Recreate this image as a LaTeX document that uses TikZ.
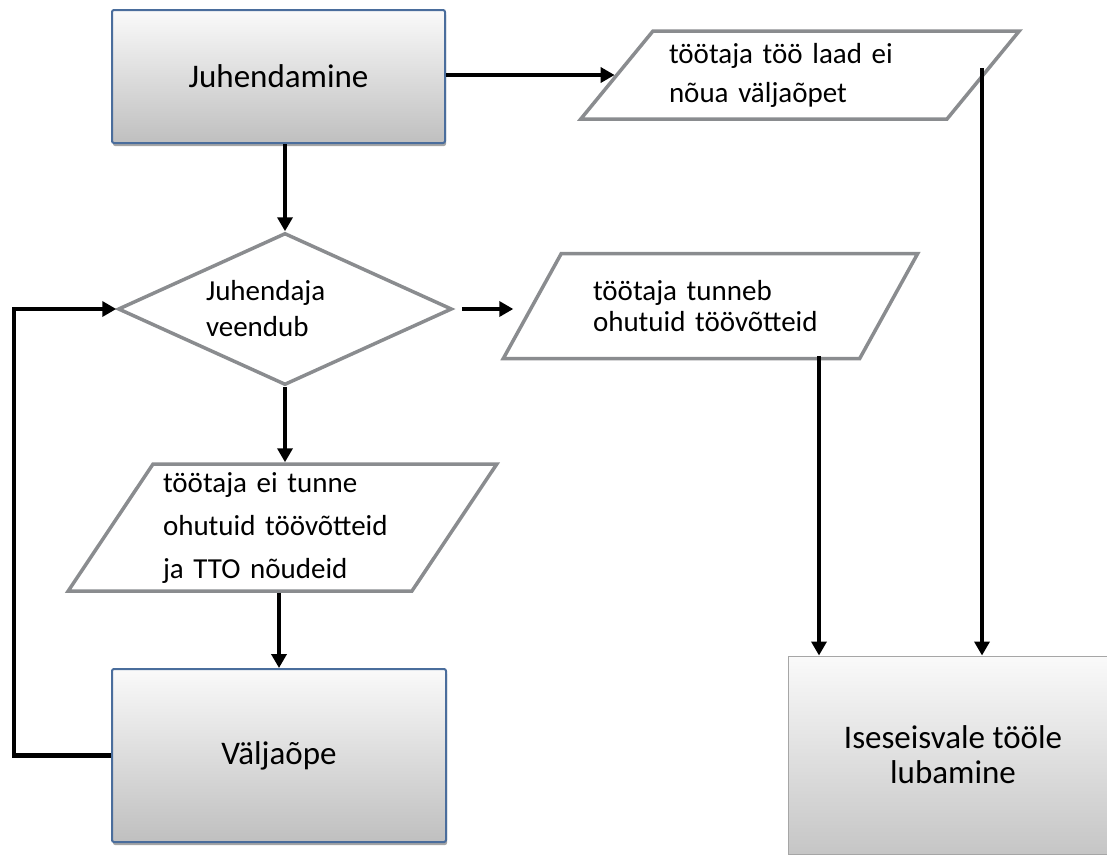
\documentclass[tikz,border=0pt]{standalone}
\usepackage{fontspec}
\setmainfont{Carlito}
\usetikzlibrary{arrows.meta,shapes.geometric,shadows}
\definecolor{boxblue}{HTML}{4A6D9C}
\definecolor{edgegray}{HTML}{8A8C8F}
\begin{document}
\begin{tikzpicture}
    [ x=1pt, y=-1pt,
      arrow-line/.style = {draw, line width=4.5pt, line join=miter,
        -{Triangle[length=14pt,width=15pt]}},
      step-box/.style = {
        shape=rectangle, rounded corners=2pt,
        draw=boxblue, line width=2pt,
        top color=gray!4, bottom color=gray!50,
        drop shadow={shadow xshift=1pt, shadow yshift=-3pt, fill=black!70},
        font=\fontsize{33}{40}\selectfont
      },
      end-box/.style = {
        shape=rectangle, draw=gray!70, line width=1pt,
        top color=gray!4, bottom color=gray!45,
        align=center, font=\fontsize{33}{35}\selectfont
      },
      data-node/.style = {
        shape=trapezium, trapezium stretches=true,
        draw=edgegray, line width=3.5pt, fill=white,
        align=left, font=\fontsize{29}{36}\selectfont
      },
      check-node/.style = {
        shape=diamond, aspect=2.2, draw=edgegray, line width=3.5pt, fill=white,
        inner sep=0pt, align=left, font=\fontsize{29}{36}\selectfont
      }]
      \useasboundingbox (0,0) rectangle (1107,855);
      \clip (0,0) rectangle (1107,855);
      % left column
      \node [step-box, minimum width=333pt, minimum height=133pt] (juh) at (278.5,76.5) {Juhendamine};
      \node [check-node, minimum width=334pt, minimum height=152pt, text width=158pt] (dia) at (285,309)
        {Juhendaja\\veendub};
      \node [data-node, trapezium left angle=55.6, trapezium right angle=124.4,
        minimum width=429pt, minimum height=127pt, text width=239pt,
        font=\fontsize{29}{43}\selectfont] (par3) at (282.5,527.5)
        {töötaja ei tunne\\ohutuid töövõtteid\\ja TTO nõudeid};
      \node [step-box, minimum width=334pt, minimum height=173pt] (valj) at (279,755.5) {Väljaõpe};
      % right side
      \node [data-node, trapezium left angle=47, trapezium right angle=133,
        minimum width=440pt, minimum height=88pt, text width=262pt,
        font=\fontsize{29}{39}\selectfont] (par1) at (800,75)
        {töötaja töö laad ei\\nõua väljaõpet};
      \node [data-node, trapezium left angle=51, trapezium right angle=129,
        minimum width=415pt, minimum height=105pt, text width=235pt,
        font=\fontsize{29}{31}\selectfont] (par2) at (710.5,306)
        {töötaja tunneb\\ohutuid töövõtteid};
      \node [end-box, minimum width=330pt, minimum height=198pt] (isel) at (953,755)
        {Iseseisvale tööle\\lubamine};
      \coordinate (drop-a) at (982,68);
      \coordinate (drop-b) at (819,356);
      % connectors
      \draw [arrow-line] (juh.south -| dia.north) -- (dia.north);
      \draw [arrow-line] (par1.west -| juh.east) -- (par1.west);
      \draw [arrow-line, shorten <=8pt, shorten >=17pt] (dia.east) -- (par2.west |- dia.east);
      \draw [arrow-line] (dia.south) -- (dia.south |- par3.north);
      \draw [arrow-line] (par3.south -| valj.north) -- (valj.north);
      \draw [arrow-line] (valj.west) -- ++(-97pt,0pt) |- (dia.west);
      \draw [arrow-line] (drop-a) -- (drop-a |- isel.north);
      \draw [arrow-line] (drop-b) -- (drop-b |- isel.north);
\end{tikzpicture}
\end{document}
